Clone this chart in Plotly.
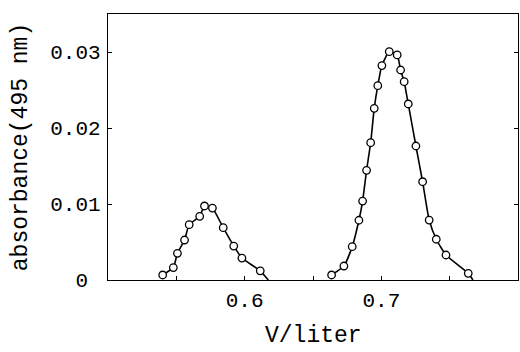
import plotly.graph_objects as go

# Peak 1 (first elution band)
peak1_v = [0.5400, 0.5478, 0.5508, 0.5560, 0.5594, 0.5671, 0.5706, 0.5764,
           0.5843, 0.5920, 0.5980, 0.6114]
peak1_abs = [0.00066, 0.00164, 0.00351, 0.00526, 0.00728, 0.00838, 0.00974, 0.00947,
             0.00688, 0.00447, 0.00289, 0.00121]
peak1_tail_v = [0.6173]
peak1_tail_abs = [0.0]

# Peak 2 (second elution band)
peak2_v = [0.6636, 0.6726, 0.6787, 0.6836, 0.6863, 0.6892, 0.6922, 0.6948,
           0.6974, 0.7004, 0.7058, 0.7116, 0.7141, 0.7167, 0.7197, 0.7253,
           0.7302, 0.7350, 0.7402, 0.7473, 0.7636]
peak2_abs = [0.00066, 0.00184, 0.00438, 0.00786, 0.01039, 0.01443, 0.01807, 0.02259,
             0.02557, 0.02822, 0.03004, 0.02961, 0.02763, 0.02609, 0.02316, 0.01763,
             0.01293, 0.00789, 0.00536, 0.00329, 0.00088]
peak2_tail_v = [0.7670]
peak2_tail_abs = [0.0]

x_tick_vals = [0.55, 0.6, 0.65, 0.7, 0.75]
x_tick_text = ["", "0.6", "", "0.7", ""]
y_tick_vals = [0, 0.01, 0.02, 0.03]
y_tick_text = ["0\u00a0", "0.01", "0.02", "0.03"]
x_title = "V/liter"
y_title = "absorbance(495 nm)"

FONT = "Liberation Mono, Courier New, monospace"

fig = go.Figure()
for v, a, tv, ta in [(peak1_v, peak1_abs, peak1_tail_v, peak1_tail_abs),
                     (peak2_v, peak2_abs, peak2_tail_v, peak2_tail_abs)]:
    fig.add_trace(go.Scatter(x=v + tv, y=a + ta, mode="lines",
                             line=dict(color="black", width=1.6, shape="spline", smoothing=0.5),
                             showlegend=False, hoverinfo="skip"))
    fig.add_trace(go.Scatter(x=v, y=a, mode="markers",
                             marker=dict(symbol="circle", size=7.5, color="white",
                                         line=dict(color="black", width=1.3)),
                             showlegend=False))

fig.add_annotation(text=x_title, xref="paper", yref="paper", x=0.5, y=0,
                   xanchor="center", yanchor="bottom", yshift=-71, showarrow=False,
                   font=dict(size=23))

fig.update_layout(
    width=520, height=352,
    margin=dict(l=108, r=2, t=14, b=72),
    paper_bgcolor="white", plot_bgcolor="white",
    font=dict(family=FONT, color="black", size=21),
    xaxis=dict(range=[0.5, 0.8], tickvals=x_tick_vals, ticktext=x_tick_text,
               ticks="inside", ticklen=4, tickwidth=1, tickcolor="black",
               showline=True, linecolor="black", linewidth=1.2, mirror=True,
               showgrid=False, zeroline=False, ticklabelstandoff=1, automargin=False),
    yaxis=dict(range=[0, 0.035], tickvals=y_tick_vals, ticktext=y_tick_text,
               ticks="inside", ticklen=4, tickwidth=1, tickcolor="black",
               showline=True, linecolor="black", linewidth=1.2, mirror="ticks",
               showgrid=False, zeroline=False, ticklabelstandoff=2, automargin=False,
               title=dict(text=y_title, font=dict(size=23), standoff=16)),
)

fig.write_html("out.html", config={"displayModeBar": False},
               post_script="document.body.style.margin='0';document.body.style.overflow='hidden';")
